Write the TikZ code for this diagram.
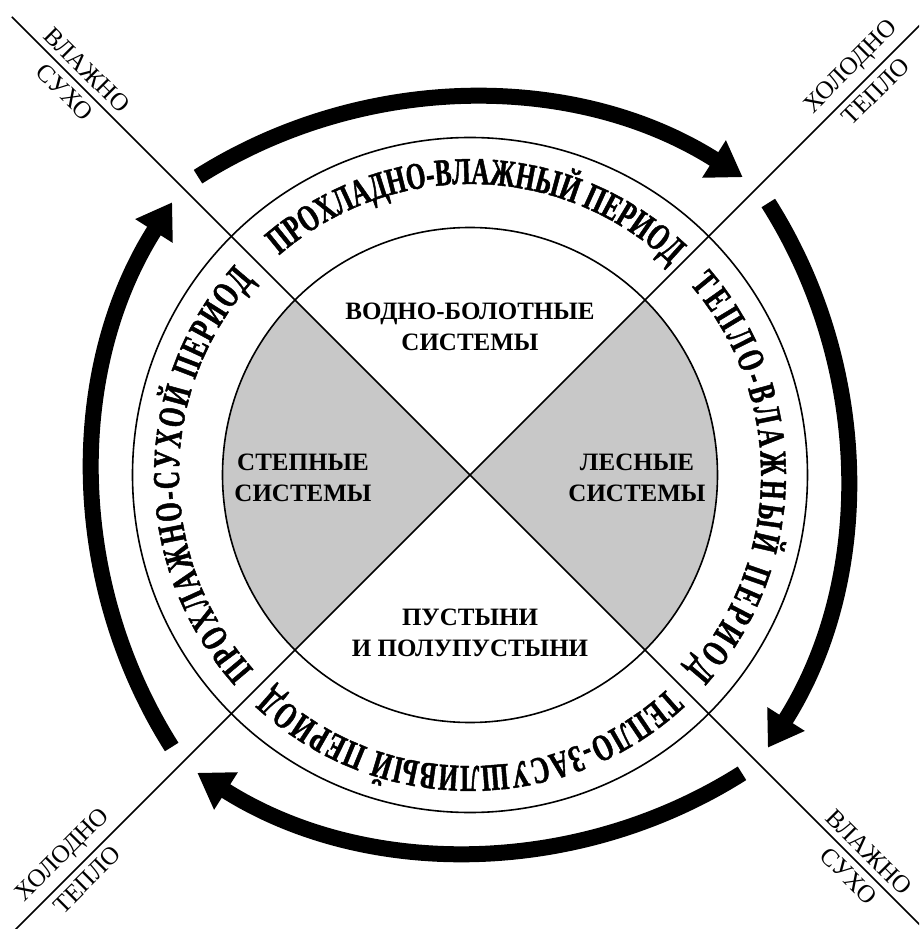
\documentclass[tikz,border=0pt]{standalone}
\usepackage{fontspec}
\setmainfont{Liberation Serif}
\newfontfamily\ringfont{Liberation Serif Bold}[FakeStretch=0.66, FakeBold=1.2]
\usepackage{tikz}
\usetikzlibrary{arrows.meta,decorations.text}
\definecolor{sectorgray}{RGB}{200,200,200}

\begin{document}
\begin{tikzpicture}[
    x=1pt, y=1pt,
    ring/.style={draw=black, line width=1.6pt},
    axis/.style={draw=black, line width=1.5pt},
    zone/.style={align=center, font=\fontsize{25}{31}\selectfont\bfseries},
    corner/.style={inner sep=7pt, font=\fontsize{25}{30}\selectfont},
    season/.style={decorate, decoration={text along path, text align=fit to path,
        text={|\ringfont\fontsize{38}{44}\selectfont|#1}}},
    cyclearrow/.style={-{Triangle[width=42pt,length=34pt]}, line width=16pt}
]
\useasboundingbox (-470,-454) rectangle (449,475);
\clip (-470,-454) rectangle (449,475);

% grey sectors and rings
\fill[sectorgray] (0,0) -- (-45:247.5) arc[start angle=-45, end angle=45, radius=247.5] -- cycle;
\fill[sectorgray] (0,0) -- (135:247.5) arc[start angle=135, end angle=225, radius=247.5] -- cycle;
\draw[ring] (0,0) circle[radius=247.5];
\draw[ring] (0,0) circle[radius=337.5];

\coordinate (nw) at (135:648);
\coordinate (se) at (-45:690);
\coordinate (ne) at (45:690);
\coordinate (sw) at (225:690);
\draw[axis] (nw) -- (se);
\draw[axis] (ne) -- (sw);

% periods
\path[season={ПРОХЛАДНО-ВЛАЖНЫЙ ПЕРИОД}] (131:291) arc[start angle=131, end angle=47, radius=291];
\path[season={ТЕПЛО-ВЛАЖНЫЙ ПЕРИОД}] (41:291) arc[start angle=41, end angle=-42, radius=291];
\path[season={ТЕПЛО-ЗАСУШЛИВЫЙ ПЕРИОД}] (-47:291) arc[start angle=-47, end angle=-133, radius=291];
\path[season={ПРОХЛАЖНО-СУХОЙ ПЕРИОД}] (222:291) arc[start angle=222, end angle=138, radius=291];

% cycle arrows
\foreach \turn in {0,-90,-180,-270} {
  \begin{scope}[rotate=\turn]
    \draw[cyclearrow] (-272,298.3) arc[start angle=122.3, end angle=57.6, radius=509];
  \end{scope}
}

\node[zone] (marsh) at (0,148) {ВОДНО-БОЛОТНЫЕ\\СИСТЕМЫ};
\node[zone] (steppe) at (-167,-3) {СТЕПНЫЕ\\СИСТЕМЫ};
\node[zone] (forest) at (167,-3) {ЛЕСНЫЕ\\СИСТЕМЫ};
\node[zone] (desert) at (0,-158) {ПУСТЫНИ\\И ПОЛУПУСТЫНИ};

\node[corner, rotate=-45, anchor=south] (nwWet) at (135:557) {ВЛАЖНО};
\node[corner, rotate=-45, anchor=north] (nwDry) at (135:557) {СУХО};
\node[corner, rotate=45, anchor=south] (neCold) at (45:558) {ХОЛОДНО};
\node[corner, rotate=45, anchor=north] (neWarm) at (45:558) {ТЕПЛО};
\node[corner, rotate=45, anchor=south] (swCold) at (225:557) {ХОЛОДНО};
\node[corner, rotate=45, anchor=north] (swWarm) at (225:557) {ТЕПЛО};
\node[corner, rotate=-45, anchor=south] (seWet) at (-45:549) {ВЛАЖНО};
\node[corner, rotate=-45, anchor=north] (seDry) at (-45:551) {СУХО};
\end{tikzpicture}
\end{document}
